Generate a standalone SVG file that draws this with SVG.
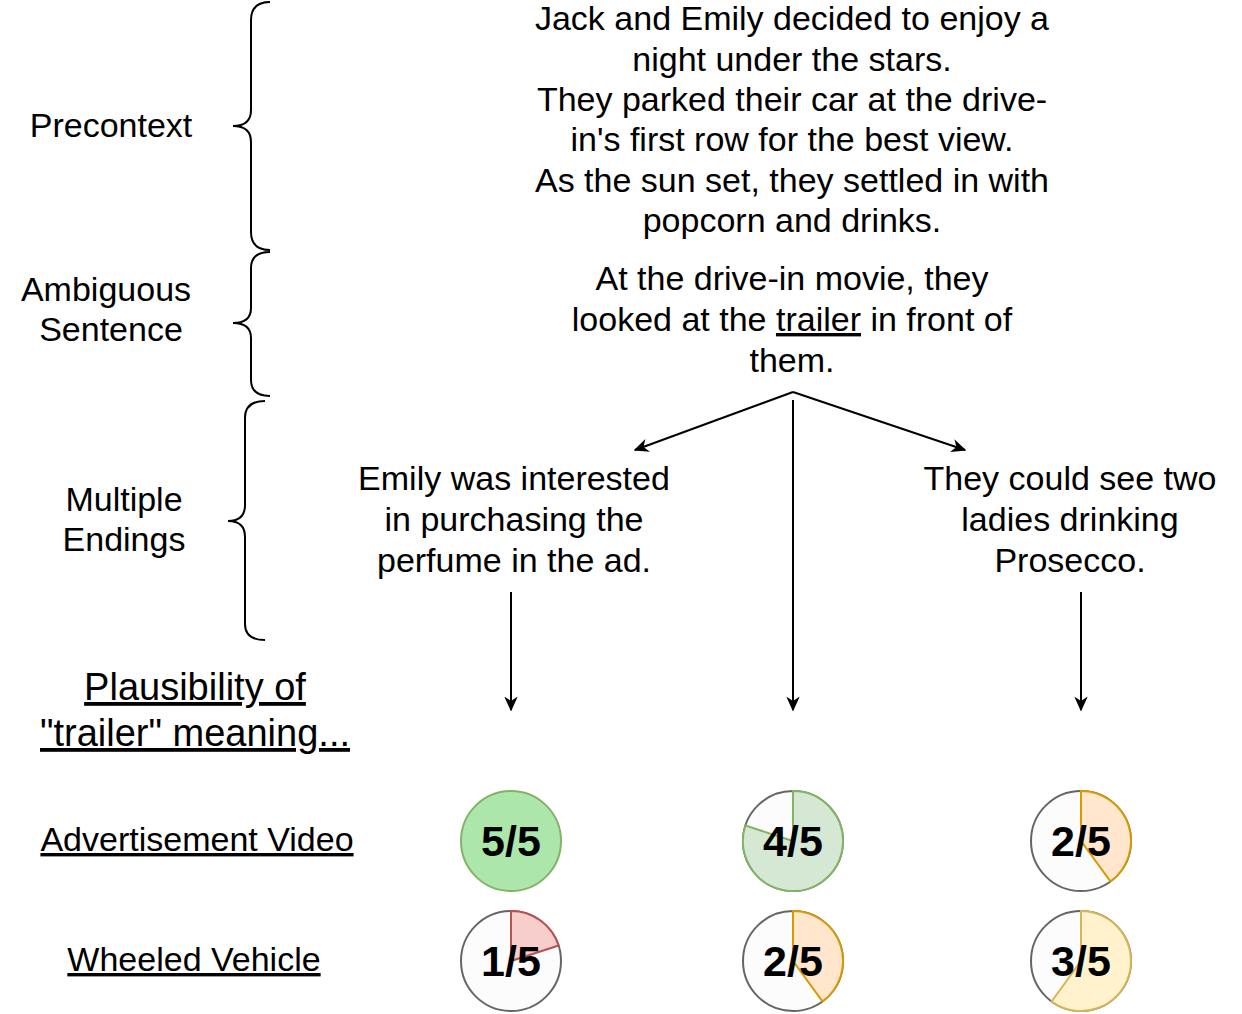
<svg xmlns="http://www.w3.org/2000/svg" width="1242" height="1014" viewBox="0 0 1242 1014">
<style>
text{font-family:"Liberation Sans",Arial,sans-serif;font-size:34px;fill:#000;text-anchor:middle}
.u{text-decoration:underline}
.p{font-size:43px;font-weight:bold}
.br{fill:none;stroke:#000;stroke-width:2}
.c{stroke:#000;stroke-width:2;fill:none}
</style>
<defs><marker id="a" viewBox="0 0 10 10" refX="9" refY="5" markerWidth="15" markerHeight="15" orient="auto" markerUnits="userSpaceOnUse"><path d="M0,0.5L10,5L0,9.5L3,5z" fill="#000"/></marker></defs>
<rect width="1242" height="1014" fill="#fff"/>
<g id="braces">
<path class="br" d="M270,2 Q251,2 251,20 V110 Q251,126 233,126 Q251,126 251,142 V232 Q251,250 270,250"/>
<path class="br" d="M270,252 Q251,252 251,268 V308 Q251,323 233,323 Q251,323 251,338 V380 Q251,396 270,396"/>
<path class="br" d="M265,401 Q245,401 245,418 V505 Q245,521 228,521 Q245,521 245,537 V624 Q245,640 265,640"/>
</g>
<g id="labels">
<text x="111" y="137">Precontext</text>
<text x="106" y="301">Ambiguous</text><text x="111" y="341">Sentence</text>
<text x="124" y="511">Multiple</text><text x="124" y="551">Endings</text>
<text x="195" y="700" class="u" style="font-size:38px">Plausibility of</text>
<text x="195" y="746" class="u" style="font-size:38px">"trailer" meaning...</text>
<text x="197" y="851" class="u">Advertisement Video</text>
<text x="194" y="971" class="u">Wheeled Vehicle</text>
</g>
<g id="precontext"><text x="792" y="30">Jack and Emily decided to enjoy a</text><text x="792" y="71">night under the stars.</text><text x="792" y="111">They parked their car at the drive-</text><text x="792" y="151">in's first row for the best view.</text><text x="792" y="192">As the sun set, they settled in with</text><text x="792" y="232">popcorn and drinks.</text></g>
<g id="ambiguous"><text x="792" y="290">At the drive-in movie, they</text><text x="792" y="331">looked at the <tspan class="u">trailer</tspan> in front of</text><text x="792" y="372">them.</text></g>
<g id="ending1"><text x="514" y="490">Emily was interested</text><text x="514" y="531">in purchasing the</text><text x="514" y="572">perfume in the ad.</text></g>
<g id="ending3"><text x="1070" y="490">They could see two</text><text x="1070" y="531">ladies drinking</text><text x="1070" y="572">Prosecco.</text></g>
<g id="connectors">
<line class="c" x1="793" y1="392" x2="635" y2="450" marker-end="url(#a)"/>
<line class="c" x1="793" y1="392" x2="965" y2="450" marker-end="url(#a)"/>
<line class="c" x1="793" y1="400" x2="793" y2="710" marker-end="url(#a)"/>
<line class="c" x1="511" y1="592" x2="511" y2="710" marker-end="url(#a)"/>
<line class="c" x1="1081" y1="592" x2="1081" y2="710" marker-end="url(#a)"/>
</g>
<g id="pie1"><circle cx="511" cy="841" r="50" fill="#ade6aa" stroke="#82b366" stroke-width="2"/><text class="p" x="511" y="856">5/5</text></g>
<g id="pie2"><circle cx="793" cy="841" r="50" fill="#fcfcfc" stroke="#666" stroke-width="2"/><path d="M793,841V791A50,50 0 1 1 745.45,825.55Z" fill="#d5e8d4" stroke="#82b366" stroke-width="2"/><text class="p" x="793" y="856">4/5</text></g>
<g id="pie3"><circle cx="1081" cy="841" r="50" fill="#fcfcfc" stroke="#666" stroke-width="2"/><path d="M1081,841V791A50,50 0 0 1 1110.4,881.45Z" fill="#ffe6cc" stroke="#d79b00" stroke-width="2"/><text class="p" x="1081" y="856">2/5</text></g>
<g id="pie4"><circle cx="511" cy="961" r="50" fill="#fcfcfc" stroke="#666" stroke-width="2"/><path d="M511,961V911A50,50 0 0 1 558.55,945.55Z" fill="#f8cecc" stroke="#b85450" stroke-width="2"/><text class="p" x="511" y="976">1/5</text></g>
<g id="pie5"><circle cx="793" cy="961" r="50" fill="#fcfcfc" stroke="#666" stroke-width="2"/><path d="M793,961V911A50,50 0 0 1 822.4,1001.45Z" fill="#ffe6cc" stroke="#d79b00" stroke-width="2"/><text class="p" x="793" y="976">2/5</text></g>
<g id="pie6"><circle cx="1081" cy="961" r="50" fill="#fcfcfc" stroke="#666" stroke-width="2"/><path d="M1081,961V911A50,50 0 1 1 1051.6,1001.45Z" fill="#fff2cc" stroke="#d6b656" stroke-width="2"/><text class="p" x="1081" y="976">3/5</text></g>
</svg>
